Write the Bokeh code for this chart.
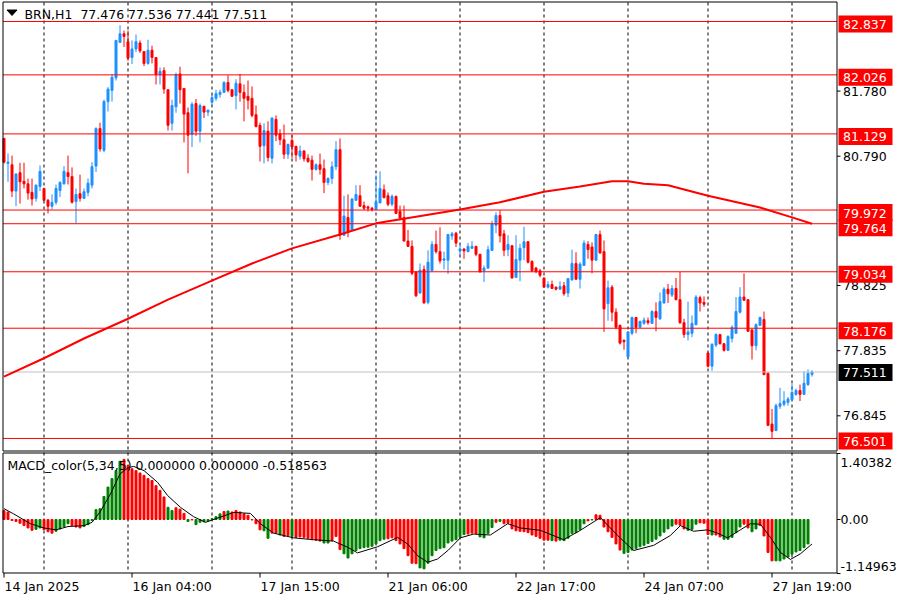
from bokeh.plotting import figure
from bokeh.models import Range1d, ColumnDataSource
from bokeh.embed import file_html
from bokeh.resources import INLINE
from bokeh.core.properties import value

# ---------------- data ----------------
open_ = [81.06,80.68,80.66,80.26,80.54,80.41,80.37,80.24,80.15,80.33,
80.30,80.12,80.03,80.09,80.27,80.37,80.54,80.48,80.10,80.22,
80.15,80.24,80.35,80.64,81.21,80.88,81.62,81.79,81.98,82.52,
82.65,82.53,82.29,82.42,82.51,82.38,82.20,82.40,82.29,82.03,
82.09,81.80,81.29,81.54,82.04,81.82,81.45,81.12,81.59,81.17,
81.55,81.46,81.61,81.67,81.73,81.76,81.91,81.80,81.71,81.89,
81.76,81.70,81.67,81.42,81.26,80.95,81.17,80.76,81.35,81.13,
81.04,80.82,81.03,80.94,80.79,80.87,80.76,80.73,80.59,80.66,
80.60,80.39,80.45,80.63,80.89,79.59,79.86,79.66,80.12,80.19,
80.04,80.02,80.00,79.98,80.08,80.28,80.19,80.06,80.18,79.95,
79.86,79.50,79.42,79.03,78.71,79.07,78.57,79.05,79.45,79.34,
79.21,79.21,79.58,79.62,79.35,79.38,79.34,79.39,79.42,79.30,
79.05,79.09,79.36,79.74,79.89,79.61,79.37,79.43,78.95,79.21,
79.40,79.49,79.19,79.09,79.05,78.94,78.80,78.84,78.80,78.77,
78.82,78.71,78.91,79.16,78.92,79.13,79.45,79.41,79.21,79.60,
79.34,78.55,78.80,78.42,78.22,77.99,77.74,78.10,78.34,78.19,
78.25,78.29,78.25,78.43,78.32,78.56,78.77,78.68,78.78,78.61,
78.26,78.08,78.10,78.23,78.64,78.57,77.80,77.60,77.92,78.08,
77.94,77.84,78.02,78.10,78.42,78.65,78.61,78.15,77.91,78.22,
78.31,77.49,76.72,76.62,76.99,77.02,77.05,77.09,77.17,77.23,
77.17,77.32,77.476]
high_ = [81.07,80.83,80.80,80.53,80.69,80.69,80.45,80.45,80.36,80.65,
80.31,80.14,80.21,80.36,80.41,80.64,80.80,80.62,80.30,80.51,
80.30,80.45,80.70,81.23,81.30,81.65,81.84,82.04,82.55,82.78,
82.70,82.70,82.55,82.64,82.55,82.38,82.56,82.47,82.29,82.14,
82.14,81.81,81.65,82.06,82.15,81.82,81.53,81.61,81.66,81.59,
81.55,81.50,81.73,81.80,81.80,81.93,82.02,81.80,81.96,82.04,
81.88,81.94,81.85,81.56,81.30,81.29,81.32,81.38,81.41,81.20,
81.27,80.98,81.11,80.95,80.95,80.88,80.82,80.80,80.68,80.83,
80.74,80.47,80.71,81.02,81.06,80.19,80.21,80.15,80.35,80.35,
80.10,80.04,80.02,80.50,80.56,80.36,80.24,80.21,80.19,80.04,
80.04,79.67,79.51,79.04,79.16,79.13,79.36,79.50,79.66,79.71,
79.34,79.61,79.64,79.64,79.46,79.39,79.47,79.50,79.43,79.30,
79.13,79.43,79.81,79.94,79.97,79.67,79.59,79.44,79.59,79.46,
79.72,79.50,79.21,79.11,79.08,78.94,78.89,78.90,78.81,78.89,
78.88,78.94,79.37,79.33,79.18,79.51,79.50,79.48,79.61,79.66,
79.51,78.90,78.83,78.48,78.23,78.01,78.13,78.35,78.34,78.29,
78.34,78.34,78.45,78.57,78.72,78.80,78.85,78.83,78.94,79.03,
78.32,78.58,78.37,78.68,78.67,78.66,77.81,77.95,78.10,78.09,
77.95,78.07,78.22,78.65,78.80,79.01,78.62,78.17,78.25,78.35,
78.43,77.51,76.95,77.03,77.27,77.22,77.13,77.33,77.26,77.32,
77.52,77.55,77.536]
low_ = [80.68,80.40,80.17,80.03,80.07,80.30,80.13,80.04,80.10,80.26,
80.11,79.92,79.98,80.05,80.17,80.36,80.36,80.07,79.77,80.10,
80.15,80.18,80.30,80.55,80.86,80.85,81.47,81.62,81.94,82.51,
82.45,82.24,82.19,82.37,82.36,82.16,82.18,82.20,81.88,81.88,
81.74,81.18,81.18,81.45,81.59,81.00,80.53,80.93,81.10,81.00,
81.37,81.40,81.54,81.63,81.68,81.76,81.76,81.70,81.50,81.62,
81.32,81.50,81.38,81.23,80.71,80.68,80.71,80.68,81.02,80.96,
80.75,80.75,80.76,80.71,80.74,80.71,80.69,80.42,80.57,80.51,
80.23,80.35,80.37,80.58,79.52,79.58,79.56,79.66,80.12,80.02,
79.97,79.95,79.95,79.97,80.08,80.15,80.03,80.03,79.91,79.82,
79.50,79.41,78.98,78.65,78.71,78.55,78.54,79.04,79.31,79.16,
79.07,79.00,79.52,79.41,79.28,79.23,79.33,79.39,79.27,79.03,
78.88,79.08,79.35,79.62,79.48,79.27,79.27,78.93,78.94,78.89,
79.21,79.16,79.03,79.01,78.95,78.80,78.78,78.78,78.75,78.76,
78.67,78.65,78.90,78.92,78.78,79.13,79.23,79.01,79.20,79.31,
78.12,78.29,78.28,78.16,77.93,77.85,77.73,78.07,78.10,78.19,
78.23,78.23,78.24,78.13,78.30,78.55,78.56,78.65,78.60,78.24,
78.03,77.99,78.04,78.22,78.43,78.50,77.58,77.53,77.89,77.93,
77.82,77.83,77.96,78.09,78.40,78.60,78.12,77.70,77.84,78.21,
77.47,76.69,76.50,76.62,76.95,76.99,77.00,77.08,77.15,77.07,
77.17,77.30,77.441]
close_ = [80.70,80.70,80.26,80.52,80.40,80.37,80.23,80.14,80.35,80.56,
80.12,80.03,80.09,80.30,80.39,80.56,80.48,80.09,80.21,80.15,
80.25,80.38,80.63,81.21,80.90,81.62,81.81,81.99,82.55,82.65,
82.61,82.28,82.42,82.53,82.39,82.20,82.40,82.29,82.03,82.08,
81.81,81.26,81.56,82.03,81.80,81.43,81.11,81.58,81.17,81.56,
81.46,81.49,81.68,81.74,81.76,81.91,81.79,81.70,81.90,81.76,
81.67,81.64,81.41,81.24,80.94,81.18,80.77,81.37,81.11,81.04,
80.82,80.97,80.93,80.81,80.87,80.75,80.71,80.59,80.66,80.59,
80.39,80.45,80.63,80.89,79.59,79.88,79.63,80.14,80.21,80.03,
80.00,80.00,79.98,80.10,80.30,80.16,80.06,80.18,79.92,79.85,
79.50,79.42,79.01,78.67,79.06,78.56,79.18,79.45,79.34,79.20,
79.23,79.60,79.61,79.47,79.38,79.35,79.42,79.42,79.30,79.03,
79.09,79.37,79.76,79.89,79.58,79.36,79.45,78.94,79.22,79.39,
79.49,79.18,79.05,79.04,78.98,78.80,78.84,78.78,78.77,78.81,
78.70,78.93,79.16,78.92,79.15,79.47,79.37,79.21,79.60,79.32,
78.47,78.79,78.42,78.19,77.95,77.97,78.12,78.34,78.19,78.28,
78.30,78.26,78.43,78.34,78.58,78.77,78.70,78.78,78.61,78.26,
78.08,78.12,78.25,78.65,78.56,78.54,77.60,77.93,78.08,77.94,
77.84,78.05,78.19,78.43,78.65,78.60,78.13,77.91,78.23,78.34,
77.47,76.70,76.61,77.00,77.03,77.07,77.10,77.20,77.23,77.17,
77.34,77.49,77.511]

# moving average (read points: bar index, value)
ma_bar = [0, 10, 20, 31, 41, 52, 62, 72, 84, 93, 103, 114, 124, 135, 144, 152, 156, 160, 166, 176, 189, 197, 202]
ma_val = [77.44, 77.72, 78.02, 78.32, 78.61, 78.90, 79.16, 79.39, 79.60, 79.77, 79.87, 79.98, 80.09, 80.25,
          80.33, 80.41, 80.41, 80.37, 80.35, 80.19, 80.01, 79.86, 79.764]

# MACD histogram, one value per bar
macd_hist = [0.19,0.16,-0.02,-0.04,-0.08,-0.13,-0.18,-0.23,-0.21,-0.18,
-0.22,-0.26,-0.29,-0.25,-0.20,-0.15,-0.09,-0.13,-0.16,-0.18,
-0.15,-0.11,-0.02,0.21,0.23,0.49,0.69,0.87,1.04,1.24,
1.28,1.15,1.08,1.04,0.99,0.94,0.87,0.83,0.72,0.62,
0.48,0.26,0.19,0.25,0.22,0.13,-0.04,-0.01,-0.11,-0.06,
-0.05,-0.03,0.02,0.06,0.12,0.17,0.18,0.16,0.19,0.16,
0.12,0.09,-0.01,-0.09,-0.22,-0.24,-0.40,-0.29,-0.29,-0.33,
-0.36,-0.34,-0.36,-0.38,-0.37,-0.38,-0.40,-0.43,-0.44,-0.46,
-0.50,-0.50,-0.45,-0.36,-0.64,-0.73,-0.82,-0.73,-0.66,-0.62,
-0.60,-0.59,-0.57,-0.52,-0.45,-0.42,-0.41,-0.39,-0.45,-0.52,
-0.62,-0.77,-0.93,-0.94,-1.03,-1.05,-0.93,-0.77,-0.66,-0.62,
-0.60,-0.50,-0.46,-0.43,-0.38,-0.32,-0.31,-0.29,-0.30,-0.37,
-0.39,-0.30,-0.17,-0.06,-0.04,-0.09,-0.08,-0.20,-0.24,-0.25,
-0.26,-0.28,-0.33,-0.36,-0.40,-0.44,-0.44,-0.45,-0.46,-0.44,
-0.45,-0.40,-0.30,-0.28,-0.22,-0.09,-0.03,-0.01,0.10,0.09,
-0.16,-0.26,-0.38,-0.52,-0.65,-0.72,-0.70,-0.65,-0.62,-0.58,
-0.55,-0.51,-0.47,-0.42,-0.35,-0.27,-0.20,-0.14,-0.10,-0.12,
-0.20,-0.23,-0.21,-0.10,-0.07,-0.08,-0.32,-0.33,-0.33,-0.37,
-0.42,-0.42,-0.38,-0.28,-0.16,-0.10,-0.18,-0.26,-0.20,-0.13,
-0.35,-0.70,-0.88,-0.88,-0.88,-0.84,-0.80,-0.74,-0.69,-0.66,
-0.60,-0.52,-0.45]
# colour of each histogram bar: g = rising, r = falling
macd_dir = ("rrrrrrrrggrrrggggrrrgggggggggg" "rrrrrrrrrrrggrrrgrgggggggrgrrrrrrrrggrrgrrg"
            "rrrrrrrggrrrggggggggggg" "rrrrrrrr" "gggggggggggg" "rrr" "ggggrgr" "rrrrrrrrrrrgr"
            "gggggggrgr" "rrrrrr" "ggggggggggggg" "rrrggg" "rrrgrrggggg" "rrgg" "rrrr" "ggggggggg")
# signal line (read points: bar index, value)
sig_bar = [0, 2.4, 6.6, 10, 13, 16, 20, 22, 24, 26.6, 29, 31, 32.4, 35, 38.4, 40.9, 44.1, 47.4, 50.4, 53.4,
           57.4, 61.6, 64.1, 67.4, 72.4, 77.4, 82.4, 85.9, 88.4, 93.4, 98.4, 100.9, 103.4, 105.9, 108.4, 111.1,
           114.1, 117.4, 121.6, 125.9, 129.1, 134.1, 139.9, 144.1, 149.1, 153.4, 157.4, 162.4, 166.6, 169.1,
           172.4, 175.9, 178.4, 180.9, 184.1, 186.6, 189.1, 191.6, 194.1, 196.6, 199.1, 202]
sig_val = [0.23, 0.12, -0.09, -0.18, -0.22, -0.15, -0.13, -0.06, 0.16, 0.54, 0.97, 1.10, 1.13, 1.04, 0.79, 0.51,
           0.26, 0.06, -0.06, 0.03, 0.15, 0.13, -0.09, -0.29, -0.39, -0.43, -0.46, -0.59, -0.71, -0.58, -0.38,
           -0.52, -0.77, -0.91, -0.84, -0.65, -0.39, -0.31, -0.33, -0.09, -0.18, -0.23, -0.43, -0.23, 0.04,
           -0.34, -0.66, -0.55, -0.34, -0.13, -0.25, -0.22, -0.29, -0.39, -0.22, -0.09, -0.10, -0.38, -0.70,
           -0.85, -0.73, -0.52]

levels = [82.837, 82.026, 81.129, 79.972, 79.764, 79.034, 78.176, 76.501]
last_price = 77.511
price_ticks = [81.780, 80.790, 78.825, 77.835, 76.845]
macd_ticks = [1.40382, 0.0, -1.14963]
macd_tick_labels = ["1.40382", "0.00", "-1.14963"]
grid_bars = [10, 31, 52, 72, 93, 114, 135, 156, 176, 197]
time_bars = [0, 32, 64, 96, 128, 160, 192]
time_labels = ["14 Jan 2025", "16 Jan 04:00", "17 Jan 15:00", "21 Jan 06:00",
               "22 Jan 17:00", "24 Jan 07:00", "27 Jan 19:00"]
title_text = "BRN,H1\u00a0 77.476 77.536 77.441 77.511"
macd_text = "MACD_color(5,34,5) 0.000000 0.000000 -0.518563"

# ---------------- layout helpers (canvas px -> data units) ----------------
W, H = 898, 596
def bx(px):
    return (px - 3.5) / 4.0
def py(px):
    return 83.156 - px / 65.81
def my(px):
    return (519.0 - px) / 47.0

BLUE = "#1E90FF"
RED = "#FF0000"
GREEN = "#008000"
FONT = value("DejaVu Sans")
FS = "12.5px"

p = figure(width=W, height=H, x_range=Range1d(bx(0), bx(W)), y_range=Range1d(py(H), py(0)),
           output_backend="svg", toolbar_location=None, min_border=0,
           x_axis_location=None, y_axis_location=None, outline_line_color=None)
p.grid.visible = False
p.background_fill_color = "white"
p.border_fill_color = "white"
p.extra_y_ranges = {"macd": Range1d(my(H), my(0))}

N = len(close_)
idx = list(range(N))

# dashed vertical grid through both panels
p.segment(x0=grid_bars, x1=grid_bars, y0=[py(2)] * len(grid_bars), y1=[py(572)] * len(grid_bars),
          line_color="black", line_width=1, line_dash="3 3")

# candles
cols = [BLUE if c >= o else RED for o, c in zip(open_, close_)]
src = ColumnDataSource(dict(x=idx, o=open_, h=high_, l=low_, c=close_,
                            top=[max(o, c) for o, c in zip(open_, close_)],
                            bot=[min(o, c) for o, c in zip(open_, close_)], col=cols))
p.segment(x0="x", y0="l", x1="x", y1="h", line_color="col", line_width=1, source=src)
p.vbar(x="x", width=0.5, top="top", bottom="bot", fill_color="col", line_color="col", line_width=1, source=src)

# horizontal levels and current price line
xl, xr = bx(2.5), bx(836.5)
p.segment(x0=[xl] * len(levels), x1=[xr] * len(levels), y0=levels, y1=levels, line_color=RED, line_width=1)
p.segment(x0=[xl], x1=[xr], y0=[last_price], y1=[last_price], line_color="#C0C0C0", line_width=1)

# moving average
p.line(ma_bar, ma_val, line_color=RED, line_width=2)

# MACD histogram + signal
hcols = [GREEN if d == "g" else RED for d in macd_dir[:N]]
hsrc = ColumnDataSource(dict(x=idx, top=macd_hist, col=hcols))
p.vbar(x="x", width=0.5, top="top", bottom=0, fill_color="col", line_color="col", line_width=1,
       source=hsrc, y_range_name="macd")
p.line(sig_bar, sig_val, line_color="black", line_width=1, y_range_name="macd")

# panel borders
p.quad(left=[xl], right=[xr], top=[py(1.5)], bottom=[py(450.5)], fill_color=None, line_color="black", line_width=1)
p.quad(left=[xl], right=[xr], top=[my(452.5)], bottom=[my(572.5)], fill_color=None, line_color="black",
       line_width=1, y_range_name="macd")

# right price axis: ticks + labels
tx0, tx1 = bx(836.5), bx(840)
p.segment(x0=[tx0] * len(price_ticks), x1=[tx1] * len(price_ticks), y0=price_ticks, y1=price_ticks,
          line_color="black", line_width=1)
p.text(x=[bx(842.5)] * len(price_ticks), y=price_ticks, text=["%.3f" % v for v in price_ticks],
       text_font=FONT, text_font_size=FS, text_color="black", text_align="left", text_baseline="middle")

# level labels (red boxes) and last price (black box)
lab_y = levels + [last_price]
lab_fill = [RED] * len(levels) + ["black"]
lab_off = [2.5 if v != 79.764 else 4.0 for v in levels] + [0.5]
p.rect(x=[bx(865)] * len(lab_y), y=[v - o / 65.81 for v, o in zip(lab_y, lab_off)], width=54, height=17,
       width_units="screen", height_units="screen", fill_color=lab_fill, line_color=None)
p.text(x=[bx(842.5)] * len(lab_y), y=[v - (o + 0.5) / 65.81 for v, o in zip(lab_y, lab_off)],
       text=["%.3f" % v for v in lab_y], text_font=FONT, text_font_size=FS, text_color="white",
       text_align="left", text_baseline="middle")

# MACD axis ticks + labels
p.segment(x0=[tx0] * 3, x1=[tx1] * 3, y0=macd_ticks, y1=macd_ticks, line_color="black", line_width=1,
          y_range_name="macd")
p.text(x=[bx(840)], y=[macd_ticks[0]], text=[macd_tick_labels[0]], y_offset=4, text_font=FONT,
       text_font_size=FS, text_align="left", text_baseline="top", y_range_name="macd")
p.text(x=[bx(840)], y=[macd_ticks[1]], text=[macd_tick_labels[1]], text_font=FONT,
       text_font_size=FS, text_align="left", text_baseline="middle", y_range_name="macd")
p.text(x=[bx(840)], y=[macd_ticks[2]], text=[macd_tick_labels[2]], y_offset=-3, text_font=FONT,
       text_font_size=FS, text_align="left", text_baseline="bottom", y_range_name="macd")

# time axis ticks + labels
p.segment(x0=time_bars, x1=time_bars, y0=[my(572.5)] * len(time_bars), y1=[my(577)] * len(time_bars),
          line_color="black", line_width=1, y_range_name="macd")
p.text(x=time_bars, y=[my(586)] * len(time_bars), text=time_labels, x_offset=0.5, text_font=FONT,
       text_font_size=FS, text_align="left", text_baseline="middle", y_range_name="macd")

# titles
p.patch(x=[bx(6.5), bx(16.5), bx(11.5)], y=[py(9.5), py(9.5), py(15)], fill_color="black", line_color="black")
p.text(x=[bx(24)], y=[py(14)], text=[title_text], text_font=FONT, text_font_size=FS,
       text_align="left", text_baseline="middle")
p.text(x=[bx(7)], y=[my(465)], text=[macd_text], text_font=FONT, text_font_size=FS,
       text_align="left", text_baseline="middle", y_range_name="macd")

open("out.html", "w").write(file_html(p, INLINE))
